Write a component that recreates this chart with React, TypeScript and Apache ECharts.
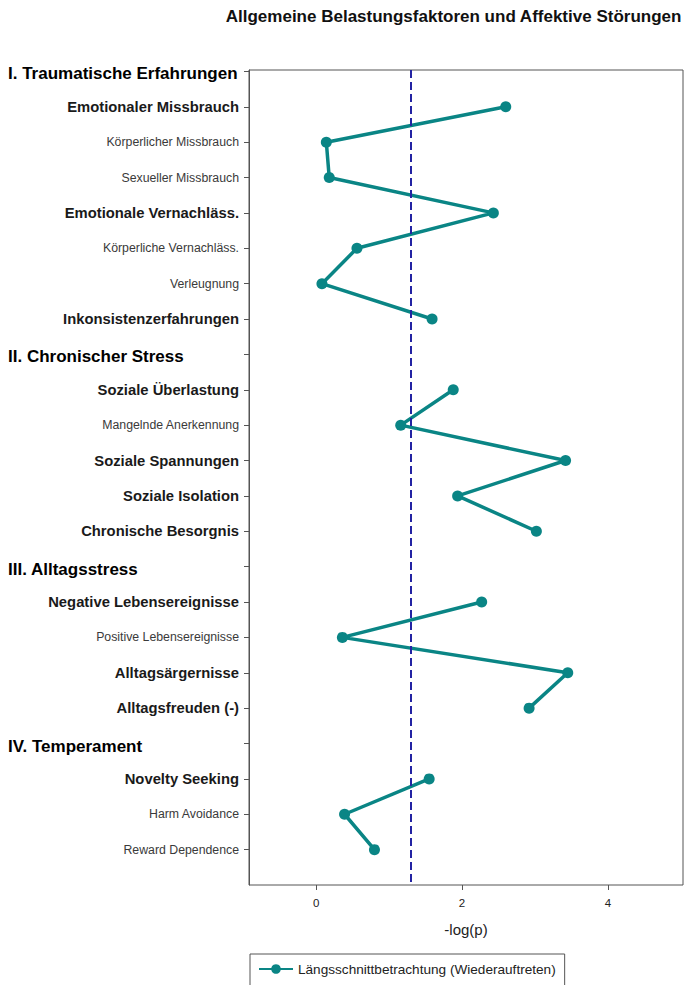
import { useEffect, useRef } from "react";
import * as echarts from "echarts";

// Rows from top to bottom; "h" = section header, "b" = bold factor, "n" = plain factor
const rowLabels = [
  "I. Traumatische Erfahrungen",
  "Emotionaler Missbrauch",
  "Körperlicher Missbrauch",
  "Sexueller Missbrauch",
  "Emotionale Vernachläss.",
  "Körperliche Vernachläss.",
  "Verleugnung",
  "Inkonsistenzerfahrungen",
  "II. Chronischer Stress",
  "Soziale Überlastung",
  "Mangelnde Anerkennung",
  "Soziale Spannungen",
  "Soziale Isolation",
  "Chronische Besorgnis",
  "III. Alltagsstress",
  "Negative Lebensereignisse",
  "Positive Lebensereignisse",
  "Alltagsärgernisse",
  "Alltagsfreuden (-)",
  "IV. Temperament",
  "Novelty Seeking",
  "Harm Avoidance",
  "Reward Dependence",
];

const rowKinds = [
  "h", "b", "n", "n", "b", "n", "n", "b",
  "h", "b", "n", "b", "b", "b",
  "h", "b", "n", "b", "b",
  "h", "b", "n", "n",
];

// -log(p) per row; headers have no value, which breaks the line between sections
const negLogP: (number | null)[] = [
  null, 2.6, 0.14, 0.18, 2.43, 0.56, 0.08, 1.59,
  null, 1.88, 1.16, 3.42, 1.94, 3.02,
  null, 2.27, 0.36, 3.45, 2.92,
  null, 1.55, 0.39, 0.8,
];

const seriesName = "Längsschnittbetrachtung (Wiederauftreten)";
const chartTitle = "Allgemeine Belastungsfaktoren und Affektive Störungen";
const xTicks = [0, 2, 4];
const xAxisName = "-log(p)";
const pThreshold = 0.05;

const FONT = "'Liberation Sans', Arial, Helvetica, sans-serif";
const TEAL = "#0a8585";

export default function App() {
  const ref = useRef<HTMLDivElement>(null);

  useEffect(() => {
    if (!ref.current) return;
    const chart = echarts.init(ref.current, null, { renderer: "svg" });
    const rowIdx = rowLabels.map((_, i) => i);

    chart.setOption({
      animation: false,
      backgroundColor: "#ffffff",
      textStyle: { fontFamily: FONT },
      title: {
        text: chartTitle,
        right: 3,
        top: 8,
        padding: 0,
        textStyle: { fontFamily: FONT, fontSize: 17, fontWeight: "bold", color: "#111" },
      },
      grid: {
        left: 249,
        top: 70,
        width: 434,
        height: 815,
        show: true,
        borderColor: "#555",
        borderWidth: 1,
        backgroundColor: "transparent",
      },
      xAxis: {
        type: "value",
        min: -0.92,
        max: 5.03,
        splitLine: { show: false },
        axisLine: { show: false, onZero: false },
        axisTick: {
          show: true,
          length: 5,
          customValues: xTicks,
          lineStyle: { color: "#555" },
        },
        axisLabel: {
          customValues: xTicks,
          margin: 12,
          fontSize: 11.5,
          color: "#222",
          fontFamily: FONT,
        },
        name: xAxisName,
        nameLocation: "middle",
        nameGap: 37,
        nameTextStyle: { fontSize: 15, color: "#222", fontFamily: FONT },
      },
      yAxis: {
        type: "value",
        inverse: true,
        min: -0.04,
        max: 23,
        splitLine: { show: false },
        axisLine: { show: true, onZero: false, lineStyle: { color: "#555" } },
        axisTick: {
          show: true,
          length: 5,
          inside: false,
          customValues: rowIdx,
          lineStyle: { color: "#555" },
        },
        axisLabel: {
          customValues: rowIdx,
          margin: 10,
          fontFamily: FONT,
          formatter: (v: number) => {
            const i = Math.round(v);
            const kind = rowKinds[i] ?? "n";
            return `{${kind}|${rowLabels[i] ?? ""}}`;
          },
          rich: {
            h: {
              fontSize: 17,
              fontWeight: "bold",
              color: "#000",
              width: 231,
              align: "left",
              padding: [5, 0, 0, 0],
              fontFamily: FONT,
            },
            b: { fontSize: 14.8, fontWeight: "bold", color: "#1a1a1a", fontFamily: FONT },
            n: { fontSize: 12.3, color: "#3a3a3a", fontFamily: FONT },
          },
        },
      },
      legend: {
        left: 250,
        top: 954,
        orient: "horizontal",
        borderColor: "#555",
        borderWidth: 1,
        padding: [8, 9, 14, 8],
        itemWidth: 34,
        itemHeight: 12,
        itemGap: 5,
        textStyle: { fontSize: 13.6, color: "#222", fontFamily: FONT },
        data: [seriesName],
      },
      series: [
        {
          name: seriesName,
          type: "line",
          data: negLogP.map((v, i) => [v == null ? "-" : v, i]),
          connectNulls: false,
          symbol: "circle",
          symbolSize: 11,
          lineStyle: { color: TEAL, width: 3.5 },
          itemStyle: { color: TEAL },
          markLine: {
            silent: true,
            symbol: "none",
            label: { show: false },
            lineStyle: { color: "#2323a3", width: 2, type: [8, 4] },
            data: [{ xAxis: -Math.log10(pThreshold) }],
          },
        },
      ],
    });

    return () => chart.dispose();
  }, []);

  return (
    <div
      ref={ref}
      style={{ position: "fixed", left: 0, top: 0, width: 685, height: 985, background: "#fff" }}
    />
  );
}
